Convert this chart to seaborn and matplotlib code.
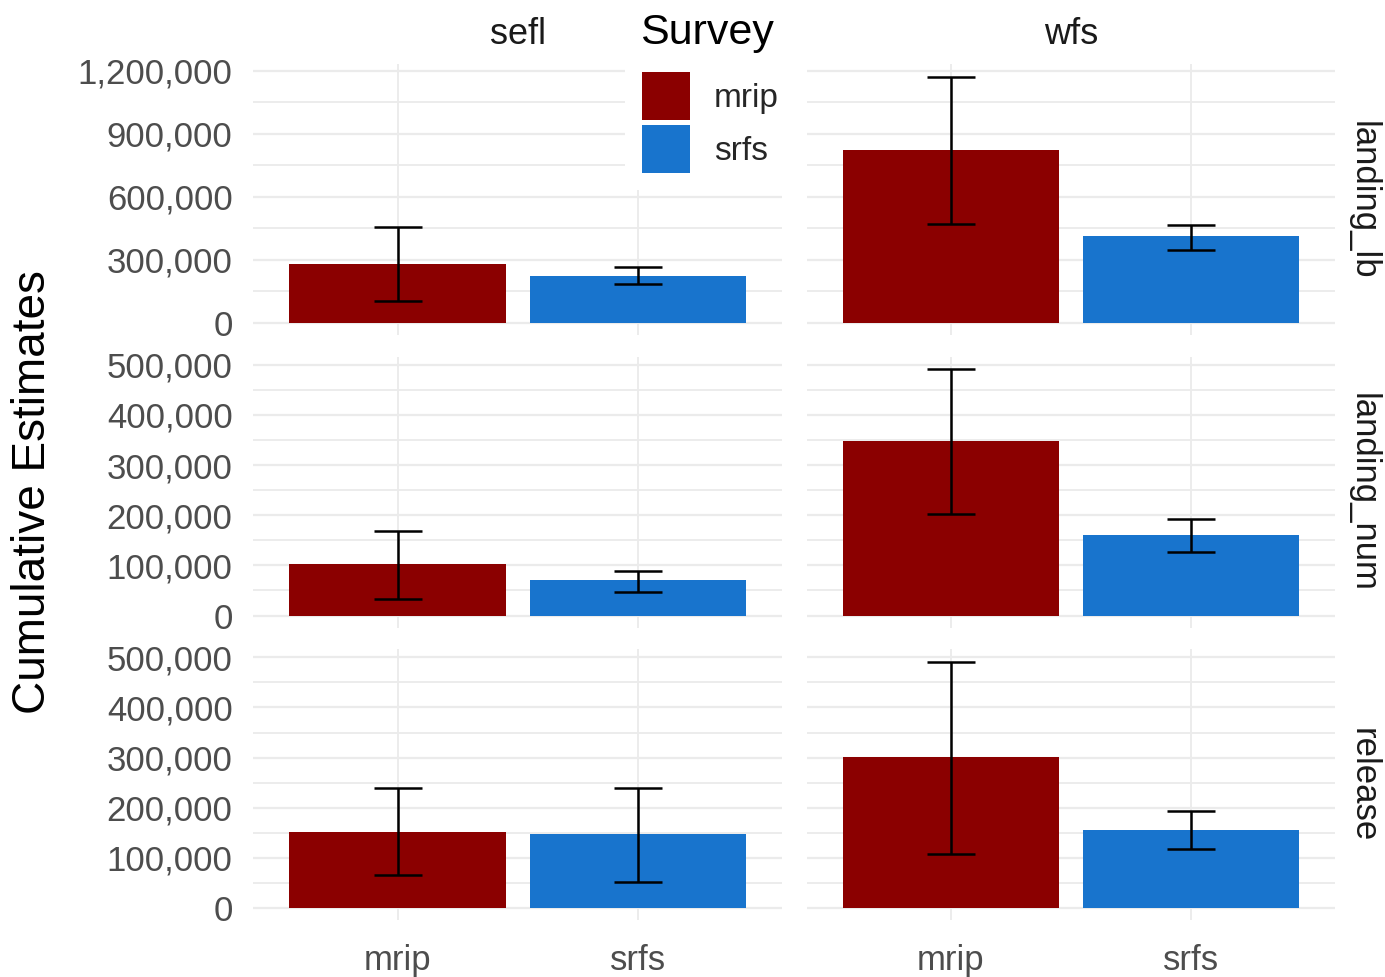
import numpy as np
import pandas as pd
import matplotlib
matplotlib.use("Agg")
import matplotlib.pyplot as plt
from matplotlib.patches import Patch
from matplotlib.ticker import FuncFormatter, MultipleLocator
import seaborn as sns

# facets and groups
regions = ["sefl", "wfs"]
measures = ["landing_lb", "landing_num", "release"]
surveys = ["mrip", "srfs"]

# one row per bar (measure x region x survey)
measure_col = ["landing_lb"] * 4 + ["landing_num"] * 4 + ["release"] * 4
region_col = ["sefl", "sefl", "wfs", "wfs"] * 3
survey_col = ["mrip", "srfs", "mrip", "srfs"] * 3

estimate = [281000, 225000, 822000, 412000,
            103000, 70000, 348000, 160000,
            152000, 147000, 301000, 156000]
lower = [106000, 186000, 470000, 346000,
         32000, 46000, 202000, 126000,
         65000, 51000, 108000, 118000]
upper = [457000, 265000, 1172000, 468000,
         169000, 88000, 491000, 193000,
         240000, 240000, 491000, 193000]

palette = {"mrip": "#8B0000", "srfs": "#1874CD"}
row_step = {"landing_lb": 300000, "landing_num": 100000, "release": 100000}

df = pd.DataFrame({
    "measure": measure_col,
    "region": region_col,
    "survey": survey_col,
    "estimate": estimate,
    "lower": lower,
    "upper": upper,
})

sns.set_theme(style="whitegrid")
plt.rcParams["font.family"] = ["Liberation Sans", "DejaVu Sans"]

fig, axes = plt.subplots(3, 2, figsize=(13.85, 9.77), dpi=100, sharey="row")
fig.subplots_adjust(left=0.183, right=0.964, top=0.934, bottom=0.058,
                    wspace=0.048, hspace=0.08)

grid_col = "#ebebeb"
comma = FuncFormatter(lambda v, p: f"{int(round(v)):,}")

for i, m in enumerate(measures):
    row_df = df[df.measure == m]
    top = row_df.upper.max()
    for j, r in enumerate(regions):
        ax = axes[i, j]
        sub = row_df[row_df.region == r]
        sns.barplot(data=sub, x="survey", y="estimate", hue="survey",
                    order=surveys, hue_order=surveys, palette=palette,
                    saturation=1, width=0.9, errorbar=None, legend=False,
                    linewidth=0, ax=ax)
        xpos = [surveys.index(s) for s in sub.survey]
        est = sub.estimate.to_numpy()
        ax.errorbar(xpos, est,
                    yerr=[est - sub.lower.to_numpy(), sub.upper.to_numpy() - est],
                    fmt="none", ecolor="black", elinewidth=1.8,
                    capsize=17, capthick=1.8, zorder=3)

        ax.set_xlim(-0.6, 1.6)
        ax.set_ylim(-0.05 * top, 1.05 * top)
        ax.yaxis.set_major_locator(MultipleLocator(row_step[m]))
        ax.yaxis.set_minor_locator(MultipleLocator(row_step[m] / 2))
        ax.yaxis.set_major_formatter(comma)
        ax.grid(which="major", axis="y", color=grid_col, linewidth=1.6)
        ax.grid(which="minor", axis="y", color=grid_col, linewidth=1.3)
        ax.grid(which="major", axis="x", color=grid_col, linewidth=1.3)
        ax.set_axisbelow(True)
        for s in ax.spines.values():
            s.set_visible(False)
        ax.set_xlabel("")
        ax.set_ylabel("")
        ax.tick_params(length=0, labelsize=25, colors="#4d4d4d")
        ax.tick_params(axis="y", pad=15)
        ax.tick_params(axis="x", pad=17)
        ax.tick_params(which="minor", length=0)
        if j == 1:
            ax.tick_params(labelleft=False)
            ax.text(1.053, 0.5, m, rotation=270, transform=ax.transAxes,
                    ha="center", va="center", fontsize=25, color="#1a1a1a")
        if i < 2:
            ax.tick_params(labelbottom=False)
        if i == 0:
            ax.set_title(r, fontsize=26, color="#1a1a1a", pad=15)

fig.text(0.024, 0.496, "Cumulative Estimates", rotation=90,
         ha="center", va="center", fontsize=33, color="black")

# legend: keys in a white box, title placed above it
handles = [Patch(facecolor=palette[s], edgecolor="none") for s in surveys]
fig.legend(handles, surveys, loc="upper left",
           bbox_to_anchor=(0.4515, 0.9434), borderaxespad=0, frameon=True,
           facecolor="white", edgecolor="none", framealpha=1, fontsize=24,
           handlelength=1.45, handleheight=1.84, labelspacing=0.15,
           handletextpad=0.7, borderpad=0.5)
fig.text(0.462, 0.966, "Survey", ha="left", va="center", fontsize=31,
         color="black")

fig.savefig("out.png", dpi=100, facecolor="white")
